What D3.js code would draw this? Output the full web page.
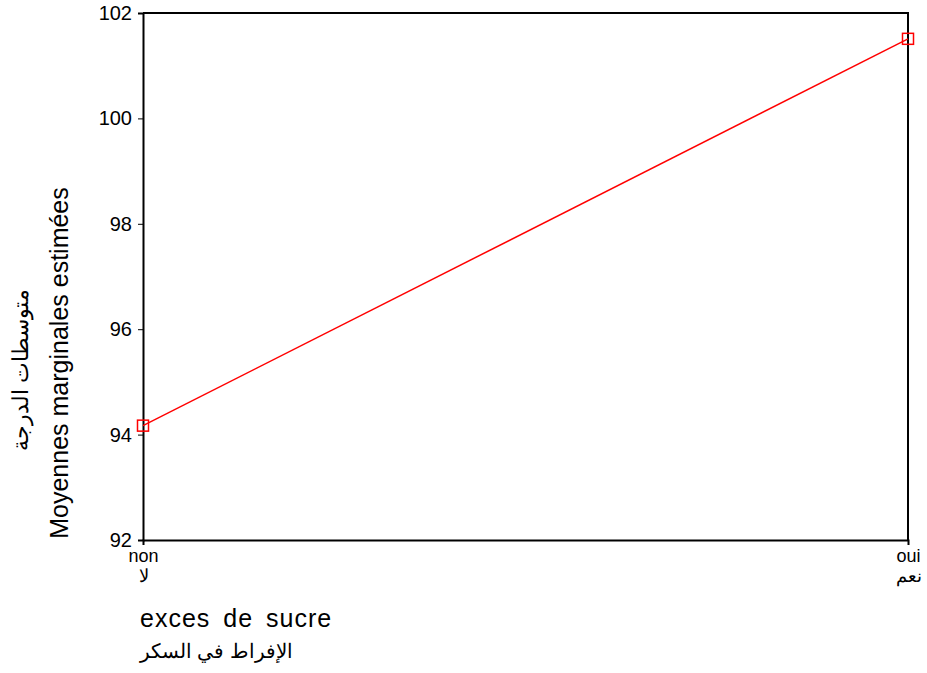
<!DOCTYPE html>
<html><head><meta charset="utf-8">
<script src="https://cdn.jsdelivr.net/npm/d3@7"></script>
<style>body{margin:0;background:#fff}svg{display:block}text{font-family:"Liberation Sans",Arial,sans-serif}</style>
</head><body><svg width="927" height="673"></svg>
<script>
const categories = ["non", "oui"];
const categoriesAr = ["لا", "نعم"];
const values = [94.17, 101.51];
const yTicks = [92, 94, 96, 98, 100, 102];

const svg = d3.select("svg");
const L = 143, R = 908, T = 13, B = 540;
const x = d3.scalePoint().domain(categories).range([L, R]).padding(0);
const y = d3.scaleLinear().domain([92, 102]).range([B, T]);

// frame
svg.append("path").attr("d", `M${L},${T}H${R}V${B}`).attr("fill","none").attr("stroke","#000").attr("stroke-width",2);

const ya = svg.append("g").attr("transform",`translate(${L},0)`).call(d3.axisLeft(y).tickValues(yTicks).tickSize(5).tickPadding(6).tickFormat(d3.format("d")));
ya.select(".domain").attr("stroke-width",2);
ya.selectAll("text").attr("font-size",20).attr("fill","#000");
const xa = svg.append("g").attr("transform",`translate(0,${B})`).call(d3.axisBottom(x).tickSize(5).tickPadding(4));
xa.select(".domain").attr("stroke-width",2);
xa.selectAll("text").attr("font-size",18).attr("fill","#000");
xa.selectAll(".tick").append("text").attr("y",42).attr("fill","#000").attr("font-size",18)
  .attr("text-anchor","middle").text((d,i)=>categoriesAr[i]);

const pts = categories.map((c,i)=>[x(c), y(values[i])]);
svg.append("path").attr("d", d3.line()(pts)).attr("fill","none").attr("stroke","#f00").attr("stroke-width",1.5);
svg.selectAll("rect.m").data(pts).enter().append("rect").attr("class","m")
  .attr("x",d=>d[0]-5.5).attr("y",d=>d[1]-5.5).attr("width",11).attr("height",11)
  .attr("fill","none").attr("stroke","#f00").attr("stroke-width",1.5);

svg.append("text").attr("x",140).attr("y",627).attr("font-size",25).attr("word-spacing",5).attr("letter-spacing",1).text("exces de sucre");
svg.append("text").attr("x",140).attr("y",658).attr("font-size",19.5).attr("direction","ltr").text("الإفراط في السكر");
svg.append("text").attr("transform","translate(68,363) rotate(-90)").attr("text-anchor","middle").attr("font-size",25).text("Moyennes marginales estimées");
svg.append("text").attr("transform","translate(28,370) rotate(-90)").attr("text-anchor","middle").attr("font-size",22).text("متوسطات الدرجة");
</script></body></html>
